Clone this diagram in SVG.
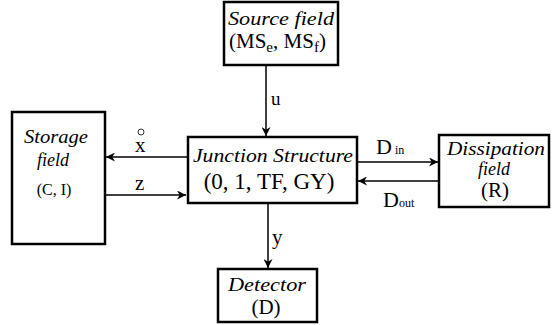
<svg xmlns="http://www.w3.org/2000/svg" width="552" height="325" viewBox="0 0 552 325">
<style>
.box{fill:#fff;stroke:#000;stroke-width:2.5}
.ln{stroke:#000;stroke-width:1.5;fill:none;marker-end:url(#ah)}
text{font-family:"Liberation Serif","Times New Roman",serif}
.it{font-style:italic;text-anchor:middle}
.rm{text-anchor:middle}
</style>
<defs>
<marker id="ah" viewBox="0 0 10 10" refX="10" refY="5" markerWidth="9" markerHeight="9" markerUnits="userSpaceOnUse" orient="auto">
<path d="M0,0 L10,5 L0,10 L3,5 z" fill="#000"/>
</marker>
</defs>
<rect width="552" height="325" fill="#fff"/>
<g id="connectors">
<line class="ln" x1="266" y1="66" x2="266" y2="136"/>
<line class="ln" x1="187" y1="157" x2="106" y2="157"/>
<line class="ln" x1="106" y1="195" x2="186" y2="195"/>
<line class="ln" x1="357" y1="162" x2="438" y2="162"/>
<line class="ln" x1="439" y1="181" x2="358" y2="181"/>
<line class="ln" x1="268" y1="203" x2="268" y2="268"/>
<text x="271" y="105" font-size="19">u</text>
<text x="272" y="244" font-size="21">y</text>
<text x="135" y="152" font-size="21">x</text>
<circle cx="141" cy="132" r="3" fill="none" stroke="#000" stroke-width="0.8"/>
<text x="135" y="190" font-size="21">z</text>
<text x="376" y="154" font-size="22">D<tspan font-size="12" dx="3">in</tspan></text>
<text x="383" y="207" font-size="22">D<tspan font-size="12">out</tspan></text>
</g>
<g id="source">
<rect class="box" x="224" y="2" width="114" height="63"/>
<text class="it" x="281" y="25" font-size="18" textLength="106" lengthAdjust="spacingAndGlyphs">Source field</text>
<text x="229" y="48" font-size="21">(MS<tspan font-size="15" dy="4">e</tspan><tspan dy="-4">, MS</tspan><tspan font-size="15" dy="4">f</tspan><tspan dy="-4">)</tspan></text>
</g>
<g id="junction">
<rect class="box" x="188" y="137" width="169" height="66"/>
<text class="it" x="273" y="162" font-size="18" textLength="160" lengthAdjust="spacingAndGlyphs">Junction Structure</text>
<text class="rm" x="269" y="189" font-size="23">(0, 1, TF, GY)</text>
</g>
<g id="storage">
<rect class="box" x="12" y="112" width="93" height="132"/>
<text class="it" x="56" y="143" font-size="18" textLength="64" lengthAdjust="spacingAndGlyphs">Storage</text>
<text class="it" x="53" y="166" font-size="18">field</text>
<text class="rm" x="54" y="195" font-size="16">(C, I)</text>
</g>
<g id="dissipation">
<rect class="box" x="439" y="135" width="110" height="72"/>
<text class="it" x="496" y="155" font-size="18" textLength="98" lengthAdjust="spacingAndGlyphs">Dissipation</text>
<text class="it" x="494" y="175" font-size="18">field</text>
<text class="rm" x="495" y="197" font-size="21">(R)</text>
</g>
<g id="detector">
<rect class="box" x="218" y="269" width="99" height="53"/>
<text class="it" x="267" y="291" font-size="18" textLength="78" lengthAdjust="spacingAndGlyphs">Detector</text>
<text class="rm" x="266" y="314" font-size="21">(D)</text>
</g>
</svg>
